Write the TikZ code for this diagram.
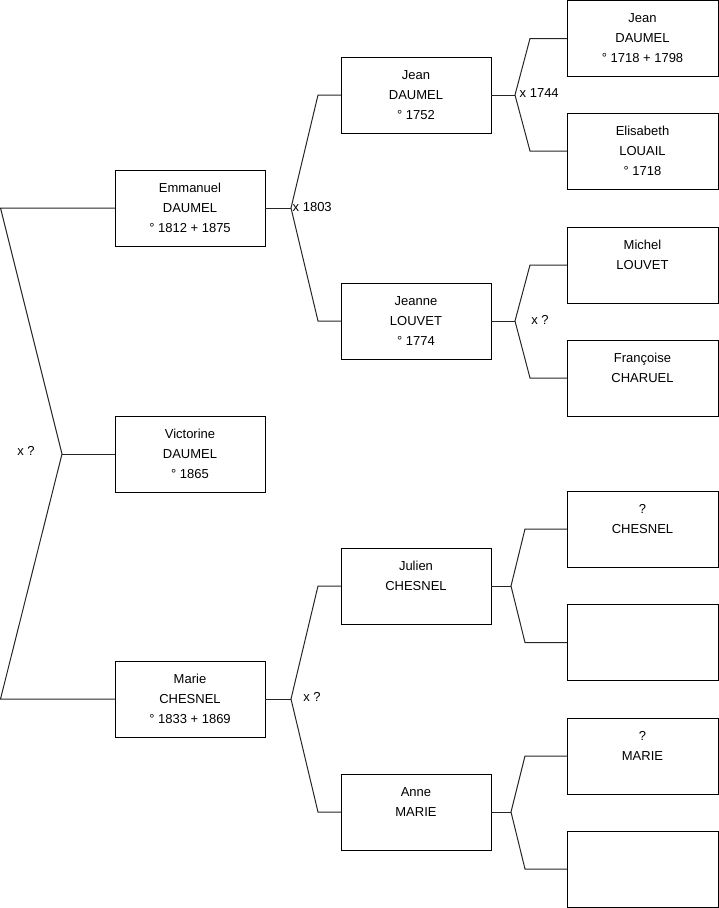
\documentclass[tikz,border=0pt]{standalone}
\usepackage{fontspec}
\setmainfont{Liberation Sans}
\newcommand\pl[3]{\strut#1\\\strut#2\\\strut#3}
\begin{document}
\begin{tikzpicture}[x=1pt,y=-1pt,
  person/.style={draw=black, line width=1pt, minimum width=150pt, minimum height=76pt,
    inner sep=0pt, outer sep=0pt, align=center, font=\fontsize{13}{20}\selectfont},
  wide/.style={minimum width=151pt},
  link/.style={draw=black!85, line width=1pt},
  lbl/.style={font=\fontsize{13}{20}\selectfont, inner sep=0pt}]
\useasboundingbox (0,0) rectangle (719,908);

% column 1
\node[person] (em)  at (190,208) {\pl{Emmanuel}{DAUMEL}{° 1812 + 1875}};
\node[person] (vic) at (190,454) {\pl{Victorine}{DAUMEL}{° 1865}};
\node[person] (ma)  at (190,699) {\pl{Marie}{CHESNEL}{° 1833 + 1869}};

% column 2
\node[person] (jd)  at (416,95)  {\pl{Jean}{DAUMEL}{° 1752}};
\node[person] (jl)  at (416,321) {\pl{Jeanne}{LOUVET}{° 1774}};
\node[person] (jc)  at (416,586) {\pl{Julien}{CHESNEL}{}};
\node[person] (am)  at (416,812) {\pl{Anne}{MARIE}{}};

% column 3
\node[person,wide] (p1) at (642.5,38.5) {\pl{Jean}{DAUMEL}{° 1718 + 1798}};
\node[person,wide] (p2) at (642.5,151)  {\pl{Elisabeth}{LOUAIL}{° 1718}};
\node[person,wide] (p3) at (642.5,265)  {\pl{Michel}{LOUVET}{}};
\node[person,wide] (p4) at (642.5,378)  {\pl{Françoise}{CHARUEL}{}};
\node[person,wide] (p5) at (642.5,529)  {\pl{?}{CHESNEL}{}};
\node[person,wide] (p6) at (642.5,642.5){};
\node[person,wide] (p7) at (642.5,756)  {\pl{?}{MARIE}{}};
\node[person,wide] (p8) at (642.5,869)  {};

% junction coordinates
\coordinate (l1) at (0.5,208);
\coordinate (lv) at (62,454);
\coordinate (l2) at (0.5,699);

\coordinate (a0) at (291,208);
\coordinate (a1) at (318,95);
\coordinate (a2) at (318,321);

\coordinate (b0) at (291,699);
\coordinate (b1) at (318,586);
\coordinate (b2) at (318,812);

\coordinate (c0) at (515,95);
\coordinate (c1) at (530,38.5);
\coordinate (c2) at (530,151);

\coordinate (d0) at (515,321);
\coordinate (d1) at (530,265);
\coordinate (d2) at (530,378);

\coordinate (e0) at (511,586);
\coordinate (e1) at (525,529);
\coordinate (e2) at (525,642.5);

\coordinate (f0) at (511,812);
\coordinate (f1) at (525,756);
\coordinate (f2) at (525,869);

% connectors
\draw[link] (em.west) -- (l1) -- (lv) -- (l2) -- (ma.west);
\draw[link] (lv) -- (vic.west);

\draw[link] (em.east) -- (a0);
\draw[link] (jd.west) -- (a1) -- (a0) -- (a2) -- (jl.west);

\draw[link] (ma.east) -- (b0);
\draw[link] (jc.west) -- (b1) -- (b0) -- (b2) -- (am.west);

\draw[link] (jd.east) -- (c0);
\draw[link] (p1.west) -- (c1) -- (c0) -- (c2) -- (p2.west);

\draw[link] (jl.east) -- (d0);
\draw[link] (p3.west) -- (d1) -- (d0) -- (d2) -- (p4.west);

\draw[link] (jc.east) -- (e0);
\draw[link] (p5.west) -- (e1) -- (e0) -- (e2) -- (p6.west);

\draw[link] (am.east) -- (f0);
\draw[link] (p7.west) -- (f1) -- (f0) -- (f2) -- (p8.west);

% marriage labels
\node[lbl] (m0) at (26,451) {x ?};
\node[lbl, anchor=west] (m1) at (292.5,207) {x 1803};
\node[lbl] (m2) at (312,697) {x ?};
\node[lbl, anchor=west] (m3) at (519.5,93) {x 1744};
\node[lbl] (m4) at (540,320) {x ?};
\end{tikzpicture}
\end{document}
